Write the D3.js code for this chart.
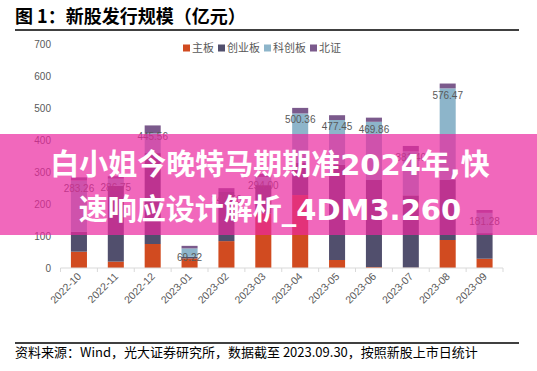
<!DOCTYPE html>
<html>
<head>
<meta charset="utf-8">
<script src="https://cdn.jsdelivr.net/npm/d3@7"></script>
<style>
  body { margin: 0; background: #fff; }
  svg { display: block; }
</style>
</head>
<body>
<div class="chart"></div>
<script>
const months = ["2022-10", "2022-11", "2022-12", "2023-01", "2023-02", "2023-03",
                "2023-04", "2023-05", "2023-06", "2023-07", "2023-08", "2023-09"];
const seriesNames = ["主板", "创业板", "科创板", "北证"];
const mainBoard = [51, 20, 75, 30, 84, 170, 228, 25, 3, 1, 87.5, 29];
const chiNext   = [62, 237, 284, 5, 153.5, 89, 100, 297, 272, 226, 187.5, 80];
const starMkt   = [160.26, 22, 61.56, 26.22, 0, 25, 155, 140.45, 181.86, 137.4, 286.47, 63.28];
const bse       = [10, 7.75, 25, 8, 12, 10, 17.36, 15, 13, 17, 15, 9];
const yTicks = [0, 100, 200, 300, 400, 500, 600, 700];

const titleText = "图 1：新股发行规模（亿元）";
const sourceText = "资料来源：Wind，光大证券研究所，数据截至 2023.09.30，按照新股上市日统计";
const bannerLines = ["白小姐今晚特马期期准2024年,快", "速响应设计解析_4DM3.260"];

const width = 537, height = 371;
const colors = ["#d14b20", "#514f6d", "#8db5ca", "#7b5a8c"];
const cjk = "'Noto Sans CJK SC', sans-serif";
const latin = "'Liberation Sans', Arial, sans-serif";

const svg = d3.select(".chart")
    .append("svg")
    .attr("width", width)
    .attr("height", height);

// title + rules
svg.append("text").attr("x", 15).attr("y", 23).text(titleText)
    .style("font-family", cjk).style("font-size", "18px").style("font-weight", "bold").attr("fill", "#000");
svg.append("line").attr("x1", 15).attr("x2", 519).attr("y1", 30).attr("y2", 30)
    .attr("stroke", "#000").attr("stroke-width", 1.3);
svg.append("line").attr("x1", 15).attr("x2", 519).attr("y1", 343).attr("y2", 343)
    .attr("stroke", "#000").attr("stroke-width", 1.3);
svg.append("text").attr("x", 15).attr("y", 357).text(sourceText)
    .style("font-family", cjk).style("font-size", "13px").attr("fill", "#000");

const rows = months.map((m, i) => ({
    month: m, "主板": mainBoard[i], "创业板": chiNext[i], "科创板": starMkt[i], "北证": bse[i]
}));

const x = d3.scaleBand()
    .domain(months)
    .range([60.5, 503])
    .paddingInner(0.565)
    .paddingOuter(0.2825);

const y = d3.scaleLinear()
    .domain([0, 700])
    .range([268, 44]);

const color = d3.scaleOrdinal().domain(seriesNames).range(colors);

// y labels (no axis line)
svg.append("g").selectAll("text")
    .data(yTicks)
    .join("text")
    .attr("x", 51)
    .attr("y", d => y(d) + 3.5)
    .attr("text-anchor", "end")
    .text(d => d)
    .style("font-family", latin).style("font-size", "10px").attr("fill", "#595959");

// stacked bars
const stacked = d3.stack().keys(seriesNames)(rows);
svg.append("g").selectAll("g")
    .data(stacked)
    .join("g")
    .attr("fill", d => color(d.key))
    .selectAll("rect")
    .data(d => d)
    .join("rect")
    .attr("x", d => x(d.data.month))
    .attr("width", x.bandwidth())
    .attr("y", d => y(d[1]))
    .attr("height", d => y(d[0]) - y(d[1]));

// x axis line with ticks between categories
const x0 = x.range()[0];
const axis = svg.append("g").attr("transform", `translate(0, ${y(0)})`);
axis.append("line").attr("x1", x0).attr("x2", x.range()[1]).attr("stroke", "#d9d9d9");
axis.selectAll(".tk")
    .data(d3.range(months.length + 1))
    .join("line")
    .attr("x1", i => x0 + i * x.step()).attr("x2", i => x0 + i * x.step())
    .attr("y1", 0).attr("y2", 4)
    .attr("stroke", "#d9d9d9");
axis.selectAll(".lbl")
    .data(months)
    .join("text")
    .attr("text-anchor", "end")
    .attr("transform", d => `translate(${x(d) + x.bandwidth() / 2 + 3}, 9) rotate(-45)`)
    .text(d => d)
    .style("font-family", latin).style("font-size", "10.5px").attr("fill", "#595959");

// total labels
svg.append("g").selectAll("text")
    .data(rows)
    .join("text")
    .attr("x", d => x(d.month) + x.bandwidth() / 2)
    .attr("y", d => y(d3.sum(seriesNames, k => d[k])) + 15)
    .attr("text-anchor", "middle")
    .text(d => d3.sum(seriesNames, k => d[k]).toFixed(2))
    .style("font-family", latin).style("font-size", "10px").attr("fill", "#595959");

// legend
const legend = svg.append("g").attr("transform", "translate(183, 48)");
let lx = 0;
seriesNames.forEach((name, i) => {
    const item = legend.append("g").attr("transform", `translate(${lx}, 0)`);
    item.append("rect").attr("x", 0).attr("y", -3.5).attr("width", 7).attr("height", 7).attr("fill", colors[i]);
    const t = item.append("text").attr("x", 9).attr("y", 4).text(name)
        .style("font-family", cjk).style("font-size", "11px").attr("fill", "#595959");
    lx += 9 + t.node().getComputedTextLength() + 4;
});

// overlay banner
svg.append("rect").attr("x", 0).attr("y", 134).attr("width", width).attr("height", 101)
    .attr("fill", "rgb(235,40,160)").attr("opacity", 0.7);
svg.append("g").selectAll("text")
    .data(bannerLines)
    .join("text")
    .attr("x", 270)
    .attr("y", (d, i) => 175 + i * 45)
    .attr("text-anchor", "middle")
    .text(d => d)
    .style("font-family", "'DejaVu Sans', 'Noto Sans CJK SC', sans-serif")
    .style("font-size", "29px").style("font-weight", "bold").attr("fill", "#fff");
</script>
</body>
</html>
